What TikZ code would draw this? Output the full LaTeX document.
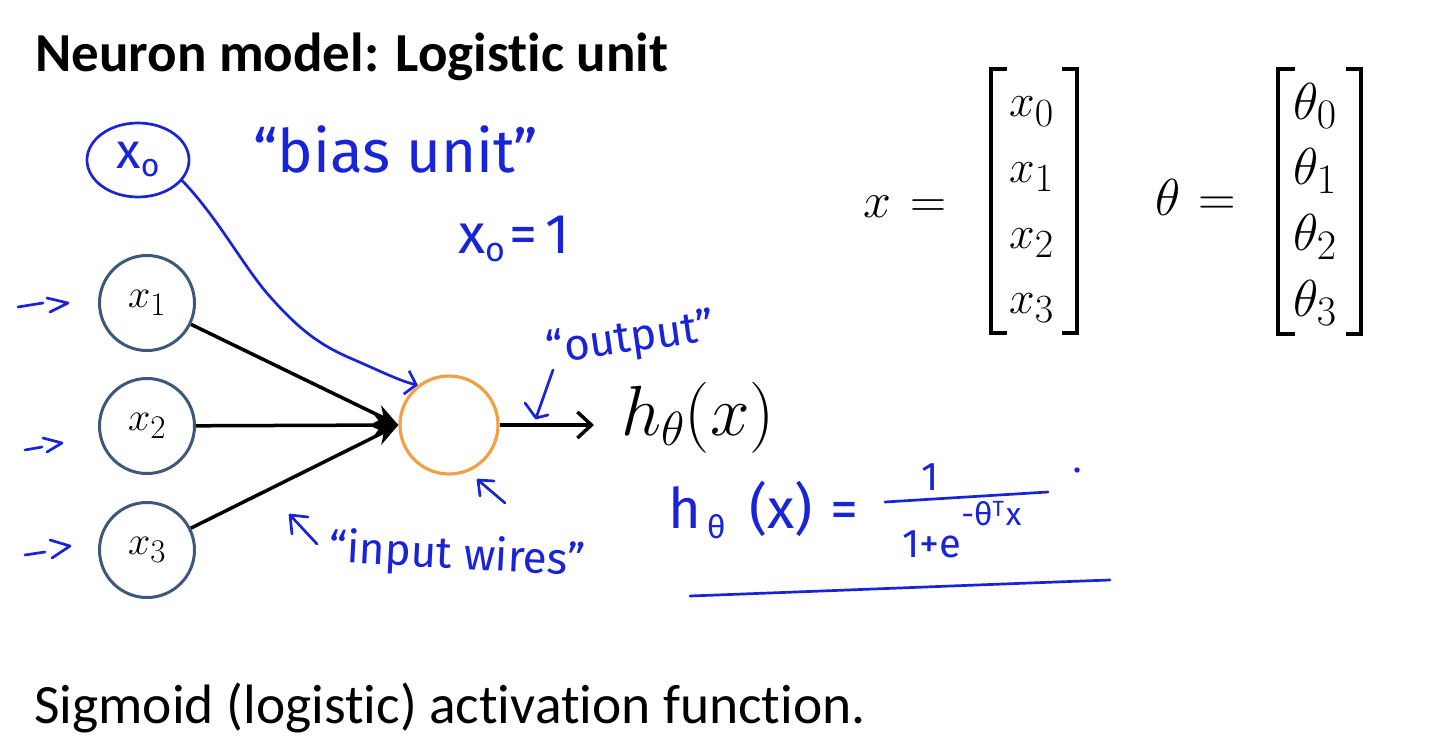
\RequirePackage{fix-cm}
\documentclass[tikz,border=0pt]{standalone}
\usepackage{amsmath}
\usepackage{fontspec}
\setmainfont{Carlito}[Ligatures=NoCommon]
\newfontfamily\handfont{Fira Sans}
\DeclareMathSizes{40}{40}{33}{24}
\DeclareMathSizes{46}{46}{40}{28}
\DeclareMathSizes{50}{50}{38}{30}
\DeclareMathSizes{52}{52}{42}{31}
\DeclareMathSizes{71}{71}{48}{36}
\usetikzlibrary{arrows.meta,shapes.geometric}
\definecolor{handblue}{RGB}{25,35,215}
\definecolor{nodeblue}{RGB}{62,88,122}
\definecolor{unitorange}{RGB}{242,160,72}
\begin{document}
\begin{tikzpicture}[x=1pt,y=-1pt,
  inputnode/.style={circle, draw=nodeblue, line width=3pt, minimum size=95pt, inner sep=0pt, font=\fontsize{40}{44}\selectfont},
  unitnode/.style={circle, draw=unitorange, line width=3.2pt, minimum size=98pt, inner sep=0pt},
  wire/.style={line width=3.5pt, -{Stealth[length=24pt,width=20pt]}},
  outwire/.style={line width=3.5pt, -{Straight Barb[length=14pt,width=26pt,line width=3.5pt]}},
  hand/.style={draw=handblue, line width=2.7pt, line cap=round, line join=round},
  handtext/.style={text=handblue, inner sep=0pt, font=\handfont\fontsize{44}{48}\selectfont},
  titletext/.style={inner sep=0pt, anchor=base west, font=\fontsize{55.5}{60}\selectfont},
  entry/.style={inner sep=0pt, anchor=base west},
  bracket/.style={line width=3.5pt, line join=miter, line cap=butt}]
\useasboundingbox (0,0) rectangle (1438,752);
\fill[white] (0,0) rectangle (1438,752);

% titles
\node[titletext, font=\bfseries\fontsize{55}{60}\selectfont] (title) at (35,72) {Neuron model: Logistic unit};
\node[titletext] (caption) at (34,723) {Sigmoid (logistic) activation function.};

% network
\node[inputnode] (x1) at (147,303) {$x_1$};
\node[inputnode] (x2) at (147,426) {$x_2$};
\node[inputnode] (x3) at (147,550) {$x_3$};
\node[unitnode] (unit) at (449,425) {};
\draw[wire] (x1) -- (unit.west);
\draw[wire] (x2) -- (unit.west);
\draw[wire] (x3) -- (unit.west);
\node[inner sep=0pt, anchor=base west, font=\fontsize{71}{80}\selectfont] (hout) at (621,435) {$h_\theta(x)$};
\draw[outwire] (unit.east) -- ([xshift=-27pt]hout.west |- unit.east);

% vector x
\node[entry, font=\fontsize{50}{60}\selectfont] (xlhs) at (863,217) {$x\hspace{6pt}=$};
\node[entry, font=\fontsize{46}{50}\selectfont] (xa) at (1009,117) {$x_0$};
\node[entry, font=\fontsize{46}{50}\selectfont] (xb) at (1009,182) {$x_1$};
\node[entry, font=\fontsize{46}{50}\selectfont] (xc) at (1009,248) {$x_2$};
\node[entry, font=\fontsize{46}{50}\selectfont] (xd) at (1009,313) {$x_3$};
\draw[bracket] (1007,69) -- (991,69) -- (991,333) -- (1007,333);
\draw[bracket] (1062,69) -- (1077,69) -- (1077,333) -- (1062,333);

% vector theta
\node[entry, font=\fontsize{52}{60}\selectfont] (tlhs) at (1155,215) {$\theta\hspace{4pt}=$};
\node[entry, font=\fontsize{52}{56}\selectfont] (ta) at (1293,119) {$\theta_0$};
\node[entry, font=\fontsize{52}{56}\selectfont] (tb) at (1293,184) {$\theta_1$};
\node[entry, font=\fontsize{52}{56}\selectfont] (tc) at (1293,250) {$\theta_2$};
\node[entry, font=\fontsize{52}{56}\selectfont] (td) at (1293,316) {$\theta_3$};
\draw[bracket] (1295,69) -- (1278,69) -- (1278,334) -- (1295,334);
\draw[bracket] (1346,69) -- (1361,69) -- (1361,334) -- (1346,334);

% bias unit
\node[ellipse, draw=handblue, line width=2.7pt, minimum width=102pt, minimum height=74pt, inner sep=0pt, handtext, font=\handfont\fontsize{50}{54}\selectfont] (x0) at (138,160) {x\raisebox{-8pt}{\fontsize{32}{32}\selectfont o}};
\draw[hand, -{Straight Barb[length=10pt,width=24pt,line width=2.7pt]}] (x0.-25) .. controls (220,220) and (245,270) .. (273,300) .. controls (300,330) and (320,345) .. (350,358) .. controls (380,371) and (400,381) .. (unit.128);
\node[handtext, anchor=base west, font=\handfont\fontsize{60}{64}\selectfont] (bias) at (253,172) {“bias unit”};
\node[handtext, anchor=base west, font=\handfont\fontsize{56}{60}\selectfont] (xeq) at (458,253) {x\raisebox{-8pt}{\fontsize{34}{34}\selectfont o}\hspace{4pt}=\hspace{8pt}1};

% input arrows
\draw[hand] (18,307) -- (43,303) (47,298) -- (68,303) -- (50,312);
\draw[hand] (25,450) -- (42,447) (43,438) -- (62,443) -- (47,452);
\draw[hand] (25,555) -- (45,552) (50,540) -- (70,546) -- (52,558);

% output label
\node[handtext, rotate=8] (outlbl) at (631,340) {“output”};
\draw[hand] (553,370) -- (536,418) (525,403) -- (536,418) -- (548,415);

% input wires label
\draw[hand] (505,503) -- (478,480) (494,481) -- (478,480) -- (480,496);
\draw[hand] (317,544) -- (290,515) (308,517) -- (290,515) -- (292,534);
\node[handtext, rotate=-3, anchor=base west] (wires) at (328,562) {“input wires”};

% formula
\node[handtext, anchor=base west, font=\handfont\fontsize{56}{60}\selectfont] (hform) at (668,528) {h\hspace{6pt}\raisebox{-10pt}{\fontsize{32}{32}\selectfont θ}\hspace{24pt}(x)\hspace{18pt}=};
\node[handtext, font=\handfont\fontsize{40}{44}\selectfont] (num) at (930,477) {1};
\node[handtext, anchor=base west, font=\handfont\fontsize{40}{44}\selectfont] (den) at (902,557) {1+e\raisebox{32pt}{\fontsize{32}{32}\selectfont -θ\raisebox{9pt}{\fontsize{22}{22}\selectfont T}\hspace{2pt}x}};
\draw[hand] (885,502) -- (1048,492);
\fill[handblue] (1077,470) circle (2.7pt);
\draw[hand] (690,596) .. controls (850,590) and (1000,584) .. (1110,580);
\end{tikzpicture}
\end{document}
